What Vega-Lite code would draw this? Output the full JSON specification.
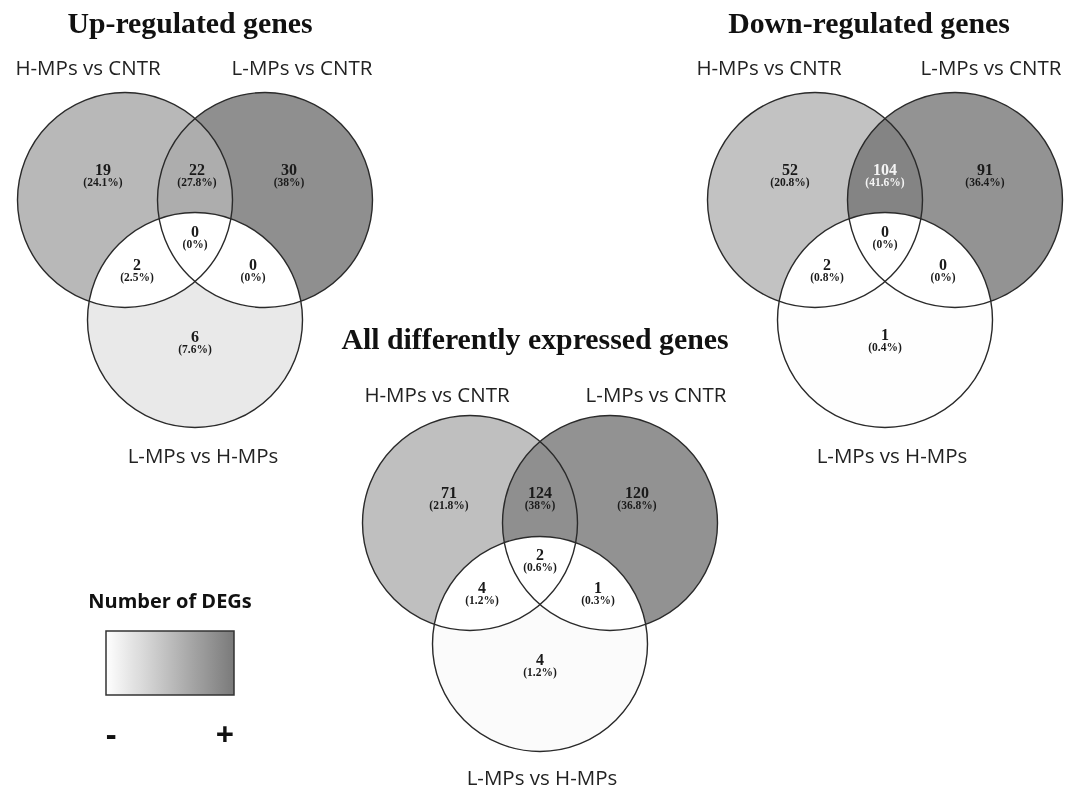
{
 "$schema": "https://vega.github.io/schema/vega-lite/v6.json",
 "width": 1072, "height": 790, "padding": 0,
 "autosize": {"type": "fit", "contains": "padding"},
 "background": "white",
 "config": {"view": {"stroke": null}},
 "datasets": {
  "circles": [
   {"id": "Up-H", "panel": "Up", "set": "H", "cx": 125, "cy": 200},
   {"id": "Up-L", "panel": "Up", "set": "L", "cx": 265, "cy": 200},
   {"id": "Up-B", "panel": "Up", "set": "B", "cx": 195, "cy": 320},
   {"id": "Down-H", "panel": "Down", "set": "H", "cx": 815, "cy": 200},
   {"id": "Down-L", "panel": "Down", "set": "L", "cx": 955, "cy": 200},
   {"id": "Down-B", "panel": "Down", "set": "B", "cx": 885, "cy": 320},
   {"id": "All-H", "panel": "All", "set": "H", "cx": 470, "cy": 523},
   {"id": "All-L", "panel": "All", "set": "L", "cx": 610, "cy": 523},
   {"id": "All-B", "panel": "All", "set": "B", "cx": 540, "cy": 644}
  ],
  "regions": [
   {"panel": "Up", "region": "H", "paint": "Up-H", "n": 19, "pct": 24.1, "pctLabel": "(24.1%)", "tx": 103, "ty": 170},
   {"panel": "Up", "region": "HL", "paint": "Up-H", "n": 22, "pct": 27.8, "pctLabel": "(27.8%)", "tx": 197, "ty": 170},
   {"panel": "Up", "region": "L", "paint": "Up-L", "n": 30, "pct": 38, "pctLabel": "(38%)", "tx": 289, "ty": 170},
   {"panel": "Up", "region": "HLB", "paint": null, "n": 0, "pct": 0, "pctLabel": "(0%)", "tx": 195, "ty": 232},
   {"panel": "Up", "region": "HB", "paint": null, "n": 2, "pct": 2.5, "pctLabel": "(2.5%)", "tx": 137, "ty": 265},
   {"panel": "Up", "region": "LB", "paint": null, "n": 0, "pct": 0, "pctLabel": "(0%)", "tx": 253, "ty": 265},
   {"panel": "Up", "region": "B", "paint": "Up-B", "n": 6, "pct": 7.6, "pctLabel": "(7.6%)", "tx": 195, "ty": 337},
   {"panel": "Down", "region": "H", "paint": "Down-H", "n": 52, "pct": 20.8, "pctLabel": "(20.8%)", "tx": 790, "ty": 170},
   {"panel": "Down", "region": "HL", "paint": "Down-H", "n": 104, "pct": 41.6, "pctLabel": "(41.6%)", "tx": 885, "ty": 170},
   {"panel": "Down", "region": "L", "paint": "Down-L", "n": 91, "pct": 36.4, "pctLabel": "(36.4%)", "tx": 985, "ty": 170},
   {"panel": "Down", "region": "HLB", "paint": null, "n": 0, "pct": 0, "pctLabel": "(0%)", "tx": 885, "ty": 232},
   {"panel": "Down", "region": "HB", "paint": null, "n": 2, "pct": 0.8, "pctLabel": "(0.8%)", "tx": 827, "ty": 265},
   {"panel": "Down", "region": "LB", "paint": null, "n": 0, "pct": 0, "pctLabel": "(0%)", "tx": 943, "ty": 265},
   {"panel": "Down", "region": "B", "paint": "Down-B", "n": 1, "pct": 0.4, "pctLabel": "(0.4%)", "tx": 885, "ty": 335},
   {"panel": "All", "region": "H", "paint": "All-H", "n": 71, "pct": 21.8, "pctLabel": "(21.8%)", "tx": 449, "ty": 493},
   {"panel": "All", "region": "HL", "paint": "All-H", "n": 124, "pct": 38, "pctLabel": "(38%)", "tx": 540, "ty": 493},
   {"panel": "All", "region": "L", "paint": "All-L", "n": 120, "pct": 36.8, "pctLabel": "(36.8%)", "tx": 637, "ty": 493},
   {"panel": "All", "region": "HLB", "paint": null, "n": 2, "pct": 0.6, "pctLabel": "(0.6%)", "tx": 540, "ty": 555},
   {"panel": "All", "region": "HB", "paint": null, "n": 4, "pct": 1.2, "pctLabel": "(1.2%)", "tx": 482, "ty": 588},
   {"panel": "All", "region": "LB", "paint": null, "n": 1, "pct": 0.3, "pctLabel": "(0.3%)", "tx": 598, "ty": 588},
   {"panel": "All", "region": "B", "paint": "All-B", "n": 4, "pct": 1.2, "pctLabel": "(1.2%)", "tx": 540, "ty": 660}
  ],
  "labels": [
   {"kind": "title", "text": "Up-regulated genes", "lx": 190, "ly": 33},
   {"kind": "title", "text": "Down-regulated genes", "lx": 869, "ly": 33},
   {"kind": "title", "text": "All differently expressed genes", "lx": 535, "ly": 349},
   {"kind": "set", "text": "H-MPs vs CNTR", "lx": 88, "ly": 75},
   {"kind": "set", "text": "L-MPs vs CNTR", "lx": 302, "ly": 75},
   {"kind": "set", "text": "L-MPs vs H-MPs", "lx": 203, "ly": 463},
   {"kind": "set", "text": "H-MPs vs CNTR", "lx": 769, "ly": 75},
   {"kind": "set", "text": "L-MPs vs CNTR", "lx": 991, "ly": 75},
   {"kind": "set", "text": "L-MPs vs H-MPs", "lx": 892, "ly": 463},
   {"kind": "set", "text": "H-MPs vs CNTR", "lx": 437, "ly": 402},
   {"kind": "set", "text": "L-MPs vs CNTR", "lx": 656, "ly": 402},
   {"kind": "set", "text": "L-MPs vs H-MPs", "lx": 542, "ly": 785}
  ]
 },
 "layer": [
  {
   "data": {"name": "regions"},
   "transform": [
    {"filter": "datum.region === 'H'"},
    {"lookup": "paint", "from": {"data": {"name": "circles"}, "key": "id", "fields": ["cx", "cy"]}}
   ],
   "mark": {"type": "point", "shape": "circle", "size": 46225, "filled": true, "opacity": 1, "strokeWidth": 0},
   "encoding": {
    "x": {"field": "cx", "type": "quantitative", "scale": {"domain": [0, 1072], "nice": false, "zero": false}, "axis": null},
    "y": {"field": "cy", "type": "quantitative", "scale": {"domain": [0, 790], "reverse": true, "nice": false, "zero": false}, "axis": null},
    "color": {
     "field": "pct", "type": "quantitative", "title": "Number of DEGs",
     "scale": {"domain": [0, 45], "range": ["#ffffff", "#7a7a7a"], "interpolate": "rgb"},
     "legend": {
      "orient": "none", "legendX": 88, "legendY": 592, "direction": "horizontal",
      "gradientLength": 128, "gradientThickness": 64,
      "gradientStrokeColor": "#333333", "gradientStrokeWidth": 1.5,
      "titleFont": "Open Sans", "titleFontSize": 20, "titleFontWeight": "bold", "titleColor": "#111111",
      "titlePadding": 19, "titleAnchor": "middle",
      "values": [0, 45], "labelExpr": "datum.value == 0 ? '-' : '+'",
      "labelFont": "Open Sans", "labelFontSize": 32, "labelFontWeight": "bold", "labelColor": "#111111",
      "labelOffset": 26, "labelOverlap": false
     }
    }
   }
  },
  {
   "data": {"name": "regions"},
   "transform": [
    {"filter": "datum.region === 'L'"},
    {"lookup": "paint", "from": {"data": {"name": "circles"}, "key": "id", "fields": ["cx", "cy"]}}
   ],
   "mark": {"type": "point", "shape": "circle", "size": 46225, "filled": true, "opacity": 1, "strokeWidth": 0, "blend": "multiply"},
   "encoding": {
    "x": {"field": "cx", "type": "quantitative", "scale": {"domain": [0, 1072], "nice": false, "zero": false}, "axis": null},
    "y": {"field": "cy", "type": "quantitative", "scale": {"domain": [0, 790], "reverse": true, "nice": false, "zero": false}, "axis": null},
    "color": {"field": "pct", "type": "quantitative", "title": "Number of DEGs"}
   }
  },
  {
   "data": {"name": "regions"},
   "transform": [
    {"filter": "datum.region === 'HL'"},
    {"lookup": "paint", "from": {"data": {"name": "circles"}, "key": "id", "fields": ["cx", "cy"]}}
   ],
   "mark": {"type": "point", "shape": "circle", "size": 46225, "filled": true, "opacity": 1, "strokeWidth": 0, "blend": "lighten"},
   "encoding": {
    "x": {"field": "cx", "type": "quantitative", "scale": {"domain": [0, 1072], "nice": false, "zero": false}, "axis": null},
    "y": {"field": "cy", "type": "quantitative", "scale": {"domain": [0, 790], "reverse": true, "nice": false, "zero": false}, "axis": null},
    "color": {"field": "pct", "type": "quantitative", "title": "Number of DEGs"}
   }
  },
  {
   "data": {"name": "circles"},
   "transform": [{"filter": "datum.set === 'B'"}],
   "mark": {"type": "point", "shape": "circle", "size": 46225, "filled": true, "opacity": 1, "strokeWidth": 0, "fill": "#ffffff", "blend": "difference"},
   "encoding": {
    "x": {"field": "cx", "type": "quantitative", "scale": {"domain": [0, 1072], "nice": false, "zero": false}, "axis": null},
    "y": {"field": "cy", "type": "quantitative", "scale": {"domain": [0, 790], "reverse": true, "nice": false, "zero": false}, "axis": null}
   }
  },
  {
   "data": {"name": "circles"},
   "transform": [{"filter": "datum.set === 'B'"}],
   "mark": {"type": "point", "shape": "circle", "size": 46225, "filled": true, "opacity": 1, "strokeWidth": 0, "fill": "#ffffff", "blend": "color-dodge"},
   "encoding": {
    "x": {"field": "cx", "type": "quantitative", "scale": {"domain": [0, 1072], "nice": false, "zero": false}, "axis": null},
    "y": {"field": "cy", "type": "quantitative", "scale": {"domain": [0, 790], "reverse": true, "nice": false, "zero": false}, "axis": null}
   }
  },
  {
   "data": {"name": "regions"},
   "transform": [
    {"filter": "datum.region === 'B'"},
    {"lookup": "paint", "from": {"data": {"name": "circles"}, "key": "id", "fields": ["cx", "cy"]}}
   ],
   "mark": {"type": "point", "shape": "circle", "size": 46225, "filled": true, "opacity": 1, "strokeWidth": 0, "blend": "lighten"},
   "encoding": {
    "x": {"field": "cx", "type": "quantitative", "scale": {"domain": [0, 1072], "nice": false, "zero": false}, "axis": null},
    "y": {"field": "cy", "type": "quantitative", "scale": {"domain": [0, 790], "reverse": true, "nice": false, "zero": false}, "axis": null},
    "color": {"field": "pct", "type": "quantitative", "title": "Number of DEGs"}
   }
  },
  {
   "data": {"name": "circles"},
   "mark": {"type": "point", "shape": "circle", "size": 46225, "filled": false, "opacity": 1, "stroke": "#2a2a2a", "strokeWidth": 1.4},
   "encoding": {
    "x": {"field": "cx", "type": "quantitative", "scale": {"domain": [0, 1072], "nice": false, "zero": false}, "axis": null},
    "y": {"field": "cy", "type": "quantitative", "scale": {"domain": [0, 790], "reverse": true, "nice": false, "zero": false}, "axis": null}
   }
  },
  {
   "data": {"name": "regions"},
   "mark": {"type": "text", "font": "Liberation Serif", "fontWeight": "bold", "fontSize": 16, "baseline": "middle", "align": "center"},
   "encoding": {
    "x": {"field": "tx", "type": "quantitative", "scale": {"domain": [0, 1072], "nice": false, "zero": false}, "axis": null},
    "y": {"field": "ty", "type": "quantitative", "scale": {"domain": [0, 790], "reverse": true, "nice": false, "zero": false}, "axis": null},
    "text": {"field": "n", "type": "quantitative"},
    "color": {"condition": {"test": "datum.pct > 40", "value": "#f4f4f4"}, "value": "#1a1a1a"}
   }
  },
  {
   "data": {"name": "regions"},
   "mark": {"type": "text", "font": "Liberation Serif", "fontWeight": "bold", "fontSize": 11.5, "baseline": "middle", "align": "center", "dy": 13},
   "encoding": {
    "x": {"field": "tx", "type": "quantitative", "scale": {"domain": [0, 1072], "nice": false, "zero": false}, "axis": null},
    "y": {"field": "ty", "type": "quantitative", "scale": {"domain": [0, 790], "reverse": true, "nice": false, "zero": false}, "axis": null},
    "text": {"field": "pctLabel", "type": "nominal"},
    "color": {"condition": {"test": "datum.pct > 40", "value": "#f4f4f4"}, "value": "#1a1a1a"}
   }
  },
  {
   "data": {"name": "labels"},
   "transform": [{"filter": "datum.kind === 'set'"}],
   "mark": {"type": "text", "font": "Open Sans", "fontSize": 20.5, "baseline": "alphabetic", "align": "center", "color": "#222222"},
   "encoding": {
    "x": {"field": "lx", "type": "quantitative", "scale": {"domain": [0, 1072], "nice": false, "zero": false}, "axis": null},
    "y": {"field": "ly", "type": "quantitative", "scale": {"domain": [0, 790], "reverse": true, "nice": false, "zero": false}, "axis": null},
    "text": {"field": "text", "type": "nominal"}
   }
  },
  {
   "data": {"name": "labels"},
   "transform": [{"filter": "datum.kind === 'title'"}],
   "mark": {"type": "text", "font": "Liberation Serif", "fontWeight": "bold", "fontSize": 29.8, "baseline": "alphabetic", "align": "center", "color": "#111111"},
   "encoding": {
    "x": {"field": "lx", "type": "quantitative", "scale": {"domain": [0, 1072], "nice": false, "zero": false}, "axis": null},
    "y": {"field": "ly", "type": "quantitative", "scale": {"domain": [0, 790], "reverse": true, "nice": false, "zero": false}, "axis": null},
    "text": {"field": "text", "type": "nominal"}
   }
  }
 ]
}
